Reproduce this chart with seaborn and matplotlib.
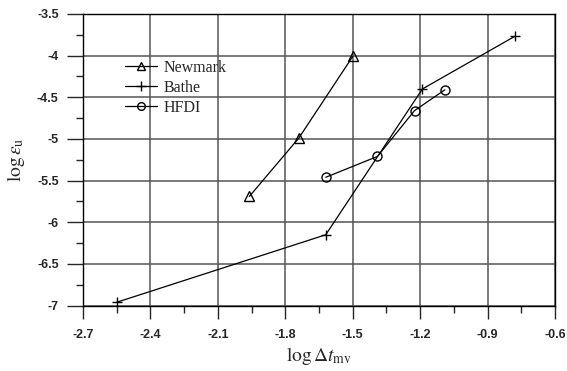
import matplotlib
matplotlib.use("Agg")
import matplotlib.pyplot as plt
import numpy as np
import pandas as pd
import seaborn as sns
from matplotlib.lines import Line2D
from matplotlib.ticker import MultipleLocator, FuncFormatter

# 数据：从图上读取
newmark_x = [-1.96, -1.74, -1.50]
newmark_y = [-5.69, -4.99, -4.01]
bathe_x = [-2.55, -1.62, -1.19, -0.78]
bathe_y = [-6.96, -6.15, -4.40, -3.77]
hfdi_x = [-1.62, -1.39, -1.225, -1.09]
hfdi_y = [-5.46, -5.21, -4.66, -4.41]

x_ticks = [-2.7, -2.4, -2.1, -1.8, -1.5, -1.2, -0.9, -0.6]
y_ticks = [-3.5, -4, -4.5, -5, -5.5, -6, -6.5, -7]

sns.set_style("white")
plt.rcParams["font.family"] = ["Liberation Serif", "DejaVu Serif"]
plt.rcParams["mathtext.fontset"] = "stix"
plt.rcParams["axes.unicode_minus"] = False

fig = plt.figure(figsize=(5.67, 3.71), dpi=100)
ax = fig.add_axes([0.1464, 0.1763, 0.8324, 0.786])

series = [
    ("Newmark", newmark_x, newmark_y, "^", 6.5),
    ("Bathe", bathe_x, bathe_y, "+", 7.5),
    ("HFDI", hfdi_x, hfdi_y, "o", 6.5),
]
handles = []
for name, xs, ys, mk, ms in series:
    df = pd.DataFrame({"x": xs, "y": ys})
    sns.lineplot(data=df, x="x", y="y", ax=ax, color="black", lw=0.9,
                 marker=mk, markersize=ms, markerfacecolor="none",
                 markeredgecolor="black", markeredgewidth=1.0, sort=False)
    handles.append(Line2D([], [], color="black", lw=0.9, marker=mk,
                          markersize=ms - 1, markerfacecolor="none",
                          markeredgecolor="black", markeredgewidth=1.0,
                          label=name))

ax.set_xlim(-2.7, -0.6)
ax.set_ylim(-7, -3.5)
ax.set_xticks(x_ticks)
ax.set_yticks(y_ticks)
ax.xaxis.set_minor_locator(MultipleLocator(0.15))
ax.yaxis.set_minor_locator(MultipleLocator(0.25))
fmt = FuncFormatter(lambda v, p: f"{round(v, 2):g}")
ax.xaxis.set_major_formatter(fmt)
ax.yaxis.set_major_formatter(fmt)

ax.grid(True, which="major", color="#555555", lw=1.1)
ax.set_axisbelow(True)
for s in ax.spines.values():
    s.set_color("black")
    s.set_linewidth(1.0)

ax.tick_params(axis="y", which="major", direction="out", length=11.5,
               width=1.0, pad=6, left=True)
ax.tick_params(axis="y", which="minor", direction="out", length=5,
               width=1.0, left=True)
ax.tick_params(axis="x", which="major", direction="out", length=9.5,
               width=1.0, pad=7, bottom=True)
ax.tick_params(axis="x", which="minor", direction="out", length=5,
               width=1.0, bottom=True)
for lab in ax.get_xticklabels() + ax.get_yticklabels():
    lab.set_family(["Liberation Sans", "DejaVu Sans"])
    lab.set_fontweight("bold")
    lab.set_fontsize(9)

ax.set_xlabel(r"$\mathrm{log}\,\Delta t_{\mathrm{mv}}$", fontsize=14, labelpad=3)
ax.set_ylabel(r"$\mathrm{log}\,\varepsilon_{\mathrm{u}}$", fontsize=14, labelpad=7)

ax.legend(handles=handles, loc="upper left", bbox_to_anchor=(0.075, 0.865),
          frameon=False, fontsize=11.5, handlelength=2.0, handletextpad=0.4,
          labelspacing=0.25, borderaxespad=0)

fig.savefig("out.png", dpi=100)
